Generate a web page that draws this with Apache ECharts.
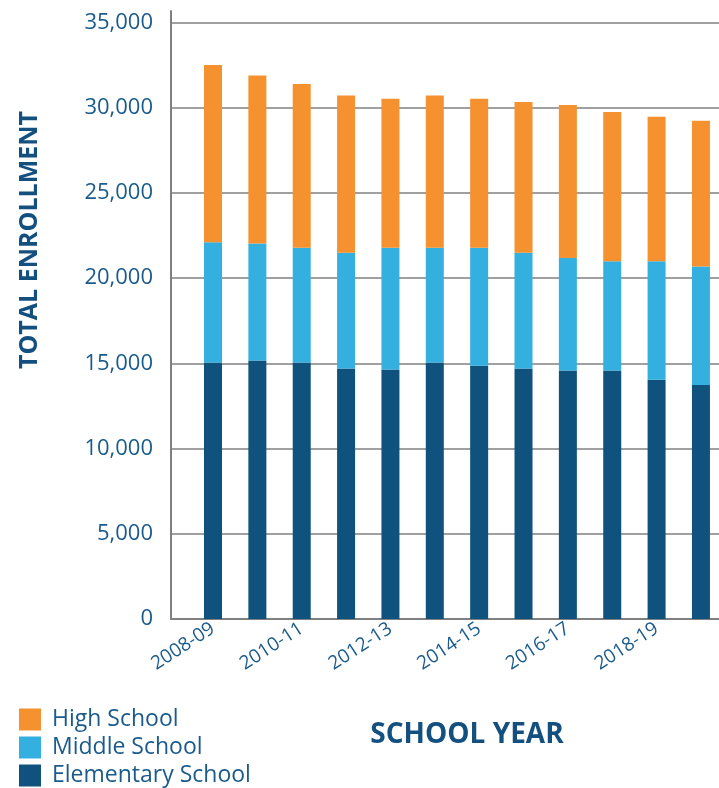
<!DOCTYPE html>
<html><head><meta charset="utf-8">
<script src="https://cdn.jsdelivr.net/npm/echarts@6/dist/echarts.min.js"></script>
<style>html,body{margin:0;padding:0;background:#fff}#c{width:719px;height:788px}</style>
</head><body><div id="c"></div>
<script>
const categories = ['2008-09','2009-10','2010-11','2011-12','2012-13','2013-14','2014-15','2015-16','2016-17','2017-18','2018-19','2019-20'];
const elementary = [15040,15160,15040,14690,14630,15040,14860,14690,14570,14570,14030,13730];
const middle = [7050,6870,6740,6790,7150,6740,6920,6790,6600,6410,6950,6950];
const high = [10400,9840,9600,9220,8730,8920,8730,8850,8970,8760,8480,8550];
const labelIndices = [0,2,4,6,8,10];
const seriesNames = ['Elementary School','Middle School','High School'];

const FONT = '"Open Sans", sans-serif';
const TXT = '#1a5b8c';
const TITLE = '#14507f';
const GRID = '#808080';

const chart = echarts.init(document.getElementById('c'), null, {renderer: 'canvas'});
// value first, category index second (x encoded from column 1)
const toPairs = arr => arr.map((v, i) => [v, i]);
const colors = ['#0f527e', '#33b0e0', '#f5912e'];
const values = [elementary, middle, high];

chart.setOption({
  animation: false,
  backgroundColor: '#ffffff',
  textStyle: {fontFamily: FONT},
  grid: {left: 171, right: 0, top: 11, bottom: 169, containLabel: false},
  xAxis: {
    type: 'value',
    min: -0.947, max: 11.407,
    axisLine: {show: true, onZero: false, lineStyle: {color: GRID, width: 2}},
    axisTick: {show: false},
    splitLine: {show: false},
    axisLabel: {
      customValues: labelIndices,
      formatter: v => categories[Math.round(v)],
      rotate: 33, margin: 8,
      fontFamily: FONT, fontSize: 19, color: TXT
    }
  },
  yAxis: {
    type: 'value',
    min: 0, max: 35660, interval: 5000,
    axisLine: {show: true, onZero: false, lineStyle: {color: GRID, width: 2}},
    axisTick: {show: false},
    splitLine: {show: true, showMaxLine: false, lineStyle: {color: GRID, width: 1.5}},
    axisLabel: {
      showMaxLabel: false,
      formatter: v => v.toLocaleString('en-US'),
      margin: 18, fontFamily: FONT, fontSize: 22, color: TXT
    }
  },
  legend: {
    orient: 'vertical', left: 19, top: 708, height: 120, padding: 0,
    itemWidth: 22, itemHeight: 22, itemGap: 5, icon: 'rect',
    data: ['High School','Middle School','Elementary School'],
    textStyle: {fontFamily: FONT, fontSize: 23, color: TXT, lineHeight: 22, padding: [0,0,0,6]}
  },
  graphic: [
    {type: 'text', x: 30, y: 240, rotation: Math.PI/2,
     style: {text: 'TOTAL ENROLLMENT', font: 'bold 25px "Open Sans", sans-serif', fill: TITLE, align: 'center', verticalAlign: 'middle'}},
    {type: 'text', x: 467, y: 735,
     style: {text: 'SCHOOL YEAR', font: 'bold 28px "Open Sans", sans-serif', fill: TITLE, align: 'center', verticalAlign: 'middle'}}
  ],
  series: values.map((arr, k) => ({
    name: seriesNames[k], type: 'bar', stack: 'total', barWidth: 18,
    encode: {x: 1, y: 0},
    itemStyle: {color: colors[k]},
    data: toPairs(arr)
  }))
});
</script></body></html>
